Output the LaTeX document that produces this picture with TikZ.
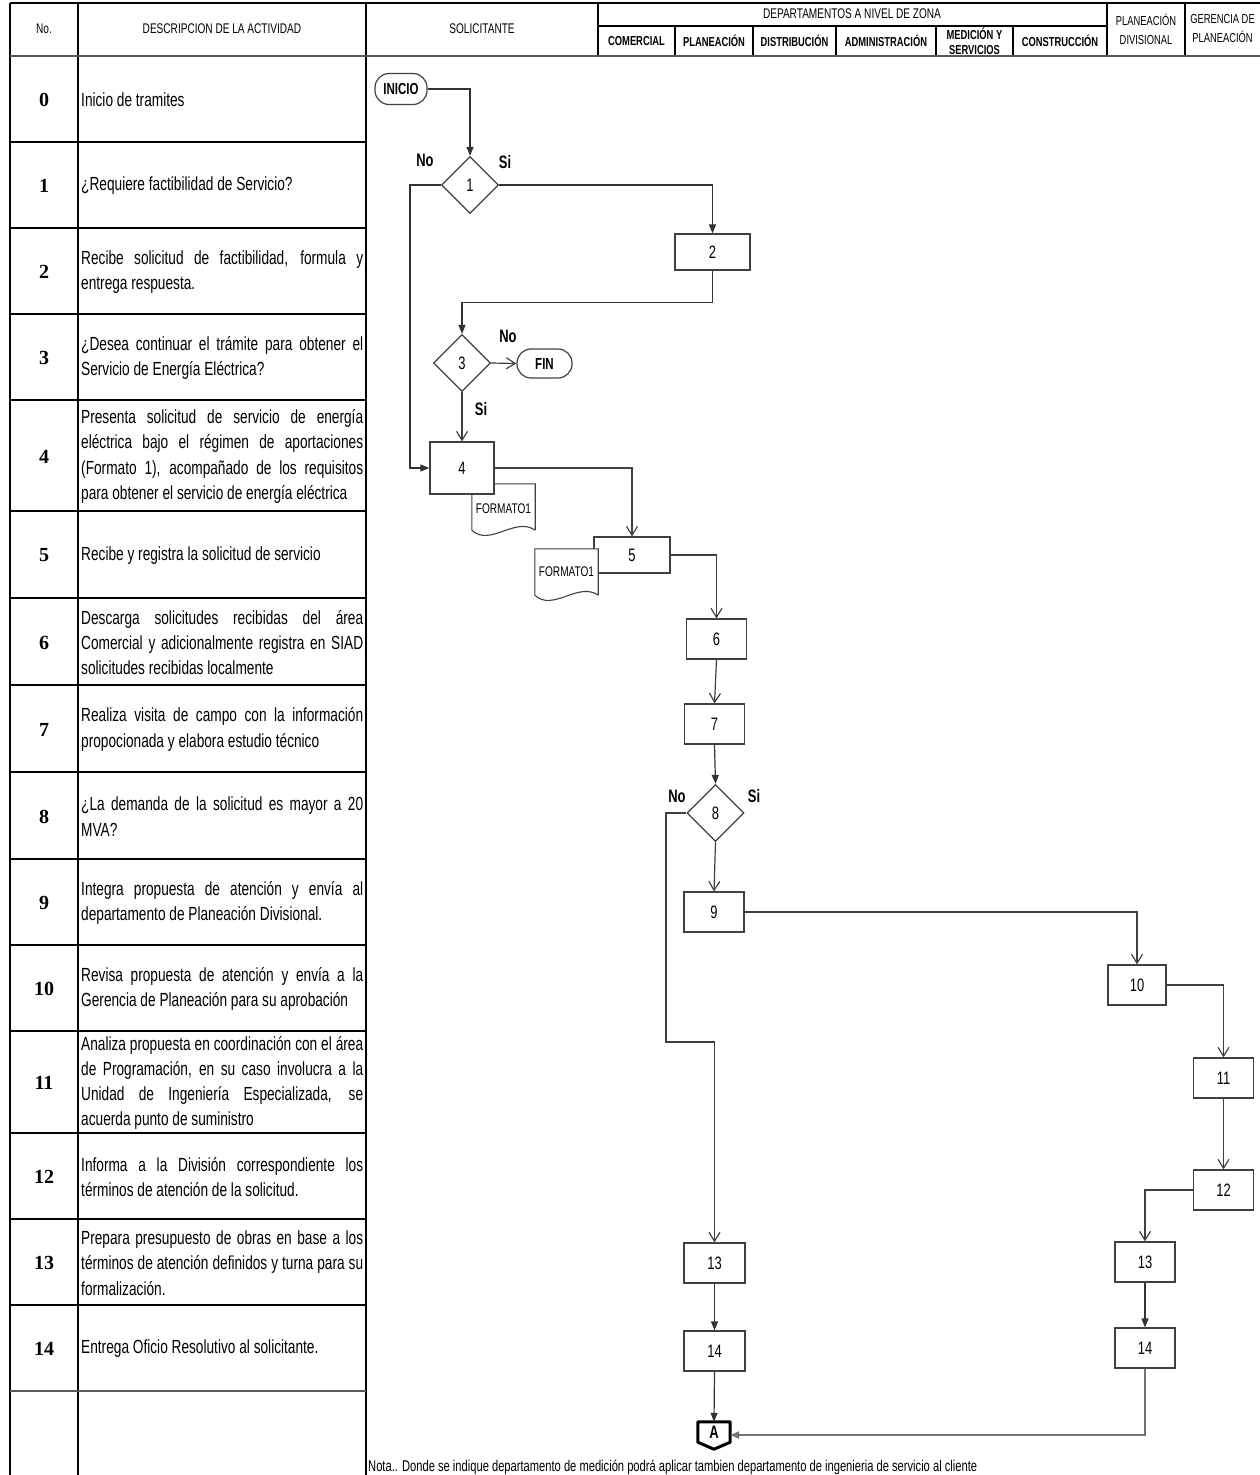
\documentclass[tikz,border=0pt]{standalone}
\usepackage{fontspec}
\setmainfont{Liberation Sans}[FakeStretch=0.72]
\newfontfamily\numfont{Liberation Serif}
\usetikzlibrary{shapes.geometric}
\usetikzlibrary{arrows.meta}
\tikzset{x=1pt, y=-1pt,
         every node/.style={inner sep=0pt},
         proc/.style={draw=black!75, line width=1.2pt, fill=white,
                      minimum width=60pt, minimum height=40pt,
                      font=\fontsize{18}{18}\selectfont},
         decision/.style={diamond, draw=black!75, line width=1.2pt, fill=white,
                          minimum width=57pt, minimum height=57pt,
                          font=\fontsize{18}{18}\selectfont},
         term/.style={draw=black!75, line width=1.2pt, rounded corners=14pt,
                      minimum width=54pt, minimum height=31pt,
                      font=\bfseries\fontsize{16}{16}\selectfont},
         docbox/.style={minimum width=63pt, minimum height=46pt},
         doctext/.style={font=\fontsize{14}{14}\selectfont},
         docline/.style={draw=black!75, line width=1.1pt, fill=white},
         yesno/.style={font=\bfseries\fontsize{18}{18}\selectfont},
         desc/.style={anchor=west, text width=282pt, align=justify,
                      font=\fontsize{19}{25.3}\selectfont},
         rownum/.style={font=\numfont\bfseries\fontsize{20}{20}\selectfont},
         head/.style={align=center, font=\fontsize{14}{19}\selectfont},
         subhead/.style={align=center, font=\bfseries\fontsize{13}{15}\selectfont},
         grid/.style={draw=black, line width=1.1pt},
         heavy/.style={draw=black!65, line width=2.2pt},
         flow/.style={draw=black!75, line width=1.2pt,
                      -{Straight Barb[length=9pt,width=11pt]}},
         flowf/.style={draw=black!80, line width=1.2pt,
                       -{Triangle[length=9pt,width=7pt]}} }

\begin{document}
\begin{tikzpicture}
    \useasboundingbox (0,0) rectangle (1260,1475);

    % table frame
    \draw[grid] (10,3) -- (1260,3);
    \draw[grid] (598,26) -- (1107,26);
    \foreach \x in {10,78,366} \draw[grid] (\x,3) -- (\x,1475);
    \foreach \x in {598,1107,1185} \draw[grid] (\x,3) -- (\x,56);
    \foreach \x in {675,753,836,936,1013} \draw[grid] (\x,26) -- (\x,56);
    \foreach \y in {142,228,314,400,511,598,685,772,859,945,1031,1133,1219,1305}
        \draw[grid] (10,\y) -- (366,\y);
    \draw[heavy] (10,56) -- (1260,56);
    \draw[heavy] (10,1391) -- (366,1391);

    % header
    \node[head] (hno) at (44,29) {No.};
    \node[head] (hdesc) at (222,29) {DESCRIPCION DE LA ACTIVIDAD};
    \node[head] (hsol) at (482,29) {SOLICITANTE};
    \node[head] (hdep) at (852,14) {DEPARTAMENTOS A NIVEL DE ZONA};
    \node[subhead] (hcom) at (636.5,41) {COMERCIAL};
    \node[subhead] (hplan) at (714,41) {PLANEACIÓN};
    \node[subhead] (hdist) at (794.5,41) {DISTRIBUCIÓN};
    \node[subhead] (hadm) at (886,41) {ADMINISTRACIÓN};
    \node[subhead] (hmed) at (974.5,41) {MEDICIÓN Y\\SERVICIOS};
    \node[subhead] (hcons) at (1060,41) {CONSTRUCCIÓN};
    \node[head, font=\fontsize{13}{19}\selectfont] (hpdiv) at (1146,29) {PLANEACIÓN\\DIVISIONAL};
    \node[head, font=\fontsize{13}{19}\selectfont] (hger) at (1222.5,29) {GERENCIA DE\\PLANEACIÓN};

    % activity numbers
    \foreach \n/\y in {0/100,1/186,2/272,3/358,4/456.5,5/555.5,6/642.5,7/729.5,
                       8/816.5,9/903,10/989,11/1083,12/1177,13/1263,14/1349}
        \node[rownum] (num\n) at (44,\y) {\n};

    % activity descriptions
    \node[desc] (desc0) at (81,100) {Inicio de tramites};
    \node[desc] (desc1) at (81,186) {¿Requiere factibilidad de Servicio?};
    \node[desc] (desc2) at (81,272) {Recibe solicitud de factibilidad, formula y\linebreak entrega respuesta.};
    \node[desc] (desc3) at (81,358) {¿Desea continuar el trámite para obtener el\linebreak Servicio de Energía Eléctrica?};
    \node[desc] (desc4) at (81,456.5) {Presenta solicitud de servicio de energía\linebreak eléctrica bajo el régimen de aportaciones\linebreak (Formato 1), acompañado de los requisitos\linebreak para obtener el servicio de energía eléctrica};
    \node[desc] (desc5) at (81,555.5) {Recibe y registra la solicitud de servicio};
    \node[desc] (desc6) at (81,642.5) {Descarga solicitudes recibidas del área\linebreak Comercial y adicionalmente registra en SIAD\linebreak solicitudes recibidas localmente};
    \node[desc] (desc7) at (81,729.5) {Realiza visita de campo con la información\linebreak propocionada y elabora estudio técnico};
    \node[desc] (desc8) at (81,816.5) {¿La demanda de la solicitud es mayor a 20\linebreak MVA?};
    \node[desc] (desc9) at (81,903) {Integra propuesta de atención y envía al\linebreak departamento de Planeación Divisional.};
    \node[desc] (desc10) at (81,989) {Revisa propuesta de atención y envía a la\linebreak Gerencia de Planeación para su aprobación};
    \node[desc] (desc11) at (81,1083) {Analiza propuesta en coordinación con el área\linebreak de Programación, en su caso involucra a la\linebreak Unidad de Ingeniería Especializada, se\linebreak acuerda punto de suministro};
    \node[desc] (desc12) at (81,1177) {Informa a la División correspondiente los\linebreak términos de atención de la solicitud.};
    \node[desc] (desc13) at (81,1263) {Prepara presupuesto de obras en base a los\linebreak términos de atención definidos y turna para su\linebreak formalización.};
    \node[desc] (desc14) at (81,1349) {Entrega Oficio Resolutivo al solicitante.};

    % flow chart
    \node[term, minimum width=52pt] (inicio) at (401,89) {INICIO};
    \node[decision] (dec1) at (470,185) {1};
    \node[proc, minimum width=75pt, minimum height=36pt] (p2) at (712.5,252) {2};
    \node[decision] (dec3) at (462,363) {3};
    \node[term, minimum width=55pt, minimum height=29pt] (fin) at (544.5,363.5) {FIN};

    \node[docbox] (f4) at (503.5,507) {};
    \draw[docline] (f4.south east) -- (f4.north east) -- (f4.north west) -- (f4.south west)
        .. controls +(18,17) and +(-20,-14) .. (f4.south east);
    \node[doctext] (t4) at ([yshift=-2pt]f4) {FORMATO1};
    \node[proc, minimum width=64pt, minimum height=52pt] (p4) at (462,468) {4};

    \node[proc, minimum width=76pt, minimum height=36pt] (p5) at (632,555) {5};
    \node[docbox] (f5) at (566.5,572) {};
    \draw[docline] (f5.south east) -- (f5.north east) -- (f5.north west) -- (f5.south west)
        .. controls +(18,17) and +(-20,-14) .. (f5.south east);
    \node[doctext] (t5) at (f5) {FORMATO1};

    \node[proc] (p6) at (716.5,639) {6};
    \node[proc] (p7) at (714.5,724) {7};
    \node[decision] (dec8) at (715.5,813) {8};
    \node[proc] (p9) at (714,912) {9};
    \node[proc, minimum width=58pt] (p10) at (1137,985) {10};
    \node[proc] (p11) at (1223.5,1078) {11};
    \node[proc] (p12) at (1223.5,1190) {12};
    \node[proc, minimum width=61pt] (p13a) at (714.5,1263) {13};
    \node[proc, minimum width=61pt] (p14a) at (714.5,1351) {14};
    \node[proc] (p13b) at (1145,1262) {13};
    \node[proc] (p14b) at (1145,1348) {14};
    \node[minimum width=32pt, minimum height=20pt,
          font=\bfseries\fontsize{18}{18}\selectfont] (conA) at (714,1432) {A};
    \draw[line width=3pt, line join=round] (conA.north west) -- (conA.north east)
        -- (conA.south east) -- ([yshift=-7pt]conA.south) -- (conA.south west) -- cycle;

    \node[yesno] (no1) at (425,160) {No};
    \node[yesno] (si1) at (505,162) {Si};
    \node[yesno] (no3) at (508,336) {No};
    \node[yesno] (si3) at (481,409) {Si};
    \node[yesno] (no8) at (677,796) {No};
    \node[yesno] (si8) at (754,796) {Si};

    \coordinate (k1) at (410,185);
    \coordinate (k8) at (666,813);
    \coordinate (k8b) at (666,1042);

    \draw[flowf] (inicio.east) -| (dec1.north);
    \draw[flowf] (dec1.east) -| (p2.north);
    \draw[flowf] (dec1.west) -- (k1) |- (p4.west);
    \draw[flowf] (p2.south) -- ++(0,32) -| (dec3.north);
    \draw[flow] (dec3.east) -- (fin.west);
    \draw[flow] (dec3.south) -- (p4.north);
    \draw[flow] (p4.east) -| (p5.north);
    \draw[flow] (p5.east) -| (p6.north);
    \draw[flow] (p6.south) -- (p7.north);
    \draw[flowf] (p7.south) -- (dec8.north);
    \draw[flow] (dec8.south) -- (p9.north);
    \draw[flow] (dec8.west) -- (k8) -- (k8b) -| (p13a.north);
    \draw[flow] (p9.east) -| (p10.north);
    \draw[flow] (p10.east) -| (p11.north);
    \draw[flow] (p11.south) -- (p12.north);
    \draw[flow] (p12.west) -| (p13b.north);
    \draw[flowf] (p13a.south) -- (p14a.north);
    \draw[flowf] (p13b.south) -- (p14b.north);
    \draw[flowf] (p14a.south) -- (conA.north);
    \draw[flowf, draw=black!55, line width=2.5pt] (p14b.south) |- ([yshift=-3pt]conA.east);

    \node[anchor=west, font=\fontsize{15.5}{15.5}\selectfont] (nota) at (368,1467)
        {Nota.. Donde se indique departamento de medición podrá aplicar tambien departamento de ingenieria de servicio al cliente};
\end{tikzpicture}
\end{document}
